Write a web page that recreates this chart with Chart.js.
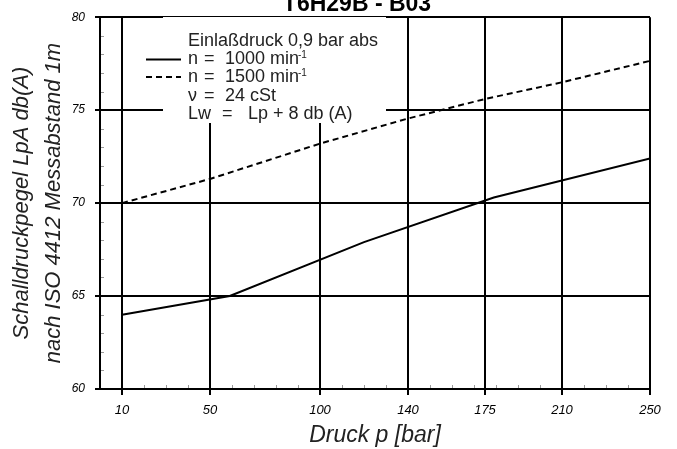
<!DOCTYPE html>
<html>
<head>
<meta charset="utf-8">
<script src="https://cdn.jsdelivr.net/npm/chart.js@4.4.0/dist/chart.umd.min.js"></script>
<style>
  html, body { margin: 0; padding: 0; background: #fff; overflow: hidden; }
  #wrap { position: relative; width: 677px; height: 449px; }
</style>
</head>
<body>
<div id="wrap"><canvas id="c" width="677" height="449"></canvas></div>
<script>
// Sound pressure level vs. outlet pressure, T6H29B - B03
const pressure1000 = [10, 59, 120, 179, 250];
const level1000 = [64.0, 65.0, 67.9, 70.3, 72.4];
const pressure1500 = [10, 50, 100, 140, 175, 210, 250];
const level1500 = [70.0, 71.3, 73.2, 74.55, 75.6, 76.5, 77.65];

const xTicks = [10, 50, 100, 140, 175, 210, 250];
const yTicks = [60, 65, 70, 75, 80];
const xMinorTicks = [20, 30, 40, 60, 70, 80, 90, 110, 120, 130, 150, 160, 170, 180, 190, 200, 220, 230, 240];
const yMinorTicks = [61, 62, 63, 64, 66, 67, 68, 69, 71, 72, 73, 74, 76, 77, 78, 79];

const chartTitle = 'T6H29B - B03';
const xTitle = 'Druck p [bar]';
const yTitle = ['Schalldruckpegel LpA db(A)', 'nach ISO 4412 Messabstand 1m'];

const FONT = "'Liberation Sans', Arial, Helvetica, sans-serif";

function toPoints(xs, ys) {
  return xs.map((x, i) => ({ x: x, y: ys[i] }));
}

// White panel holding the operating conditions; it hides the grid behind it
const notePanel = {
  id: 'notePanel',
  beforeDatasetsDraw(chart) {
    const ctx = chart.ctx;
    ctx.save();
    ctx.fillStyle = '#fff';
    ctx.fillRect(163, 17, 223, 106);
    ctx.restore();
  },
  afterDraw(chart) {
    const ctx = chart.ctx;
    ctx.save();
    ctx.fillStyle = '#222';
    ctx.textBaseline = 'alphabetic';
    ctx.textAlign = 'left';
    ctx.font = '18px ' + FONT;
    ctx.fillText('Einlaßdruck 0,9 bar abs', 188, 46);

    ctx.fillText('n', 188, 64);
    ctx.fillText('=', 204, 64);
    ctx.fillText('1000 min', 225, 64);
    ctx.fillText('n', 188, 82);
    ctx.fillText('=', 204, 82);
    ctx.fillText('1500 min', 225, 82);
    ctx.fillText('ν', 188, 100.5);
    ctx.fillText('=', 204, 100.5);
    ctx.fillText('24 cSt', 225, 100.5);
    ctx.fillText('Lw', 188, 118.5);
    ctx.fillText('=', 222, 118.5);
    ctx.fillText('Lp + 8 db (A)', 248, 118.5);

    ctx.font = '10px ' + FONT;
    ctx.fillText('-1', 298, 58);
    ctx.fillText('-1', 298, 76);

    // line samples for the two speeds
    ctx.strokeStyle = '#000';
    ctx.lineWidth = 2;
    ctx.beginPath();
    ctx.moveTo(146, 59.5);
    ctx.lineTo(181, 59.5);
    ctx.stroke();
    ctx.setLineDash([6, 4]);
    ctx.beginPath();
    ctx.moveTo(146, 77);
    ctx.lineTo(181, 77);
    ctx.stroke();
    ctx.setLineDash([]);

    // chart heading, partly above the top edge
    ctx.font = 'bold 23px ' + FONT;
    ctx.fillStyle = '#000';
    ctx.textAlign = 'center';
    ctx.fillText(chartTitle, 357, 11);
    ctx.restore();
  }
};

// Short minor tick marks inside the plot, placed through the scales
const minorTicks = {
  id: 'minorTicks',
  afterDatasetsDraw(chart) {
    const ctx = chart.ctx;
    const xs = chart.scales.x, ys = chart.scales.y;
    ctx.save();
    ctx.strokeStyle = '#9a9a9a';
    ctx.lineWidth = 1;
    ctx.beginPath();
    xMinorTicks.forEach(v => {
      const px = Math.round(xs.getPixelForValue(v)) + 0.5;
      ctx.moveTo(px, ys.bottom - 1);
      ctx.lineTo(px, ys.bottom - 4);
    });
    yMinorTicks.forEach(v => {
      const py = Math.round(ys.getPixelForValue(v)) + 0.5;
      ctx.moveTo(xs.left + 1, py);
      ctx.lineTo(xs.left + 4, py);
    });
    ctx.stroke();
    ctx.restore();
  }
};

new Chart(document.getElementById('c'), {
  type: 'line',
  data: {
    datasets: [
      {
        label: 'n = 1000 min-1',
        data: toPoints(pressure1000, level1000),
        borderColor: '#000',
        borderWidth: 2,
        pointRadius: 0,
        tension: 0,
        fill: false
      },
      {
        label: 'n = 1500 min-1',
        data: toPoints(pressure1500, level1500),
        borderColor: '#000',
        borderWidth: 2,
        borderDash: [6, 4],
        pointRadius: 0,
        tension: 0,
        fill: false
      }
    ]
  },
  options: {
    responsive: false,
    animation: false,
    devicePixelRatio: 1,
    layout: { padding: { top: 15, right: 27, left: 0, bottom: 0 } },
    plugins: {
      legend: { display: false },
      title: { display: false },
      tooltip: { enabled: false }
    },
    scales: {
      x: {
        type: 'linear',
        min: 0,
        max: 250,
        afterBuildTicks: s => { s.ticks = xTicks.map(v => ({ value: v })); },
        afterFit: s => { s.height = 60; },
        grid: { color: '#000', lineWidth: 2, tickLength: 6, drawTicks: true },
        border: { color: '#000', width: 2 },
        ticks: {
          autoSkip: false,
          maxRotation: 0,
          padding: 8,
          color: '#000',
          font: { family: FONT, style: 'italic', size: 13 }
        },
        title: {
          display: true,
          text: xTitle,
          color: '#222',
          font: { family: FONT, style: 'italic', size: 23 },
          padding: { top: 0, bottom: 0 }
        }
      },
      y: {
        type: 'linear',
        min: 60,
        max: 80,
        afterBuildTicks: s => { s.ticks = yTicks.map(v => ({ value: v })); },
        afterFit: s => { s.width = 100; },
        grid: { color: '#000', lineWidth: 2, tickLength: 5, drawTicks: true },
        border: { color: '#000', width: 2 },
        ticks: {
          padding: 10,
          color: '#000',
          font: { family: FONT, style: 'italic', size: 12 }
        },
        title: {
          display: true,
          text: yTitle,
          color: '#222',
          font: { family: FONT, style: 'italic', size: 22, lineHeight: 1.45 },
          padding: { top: 6, bottom: 0 }
        }
      }
    }
  },
  plugins: [notePanel, minorTicks]
});
</script>
</body>
</html>
